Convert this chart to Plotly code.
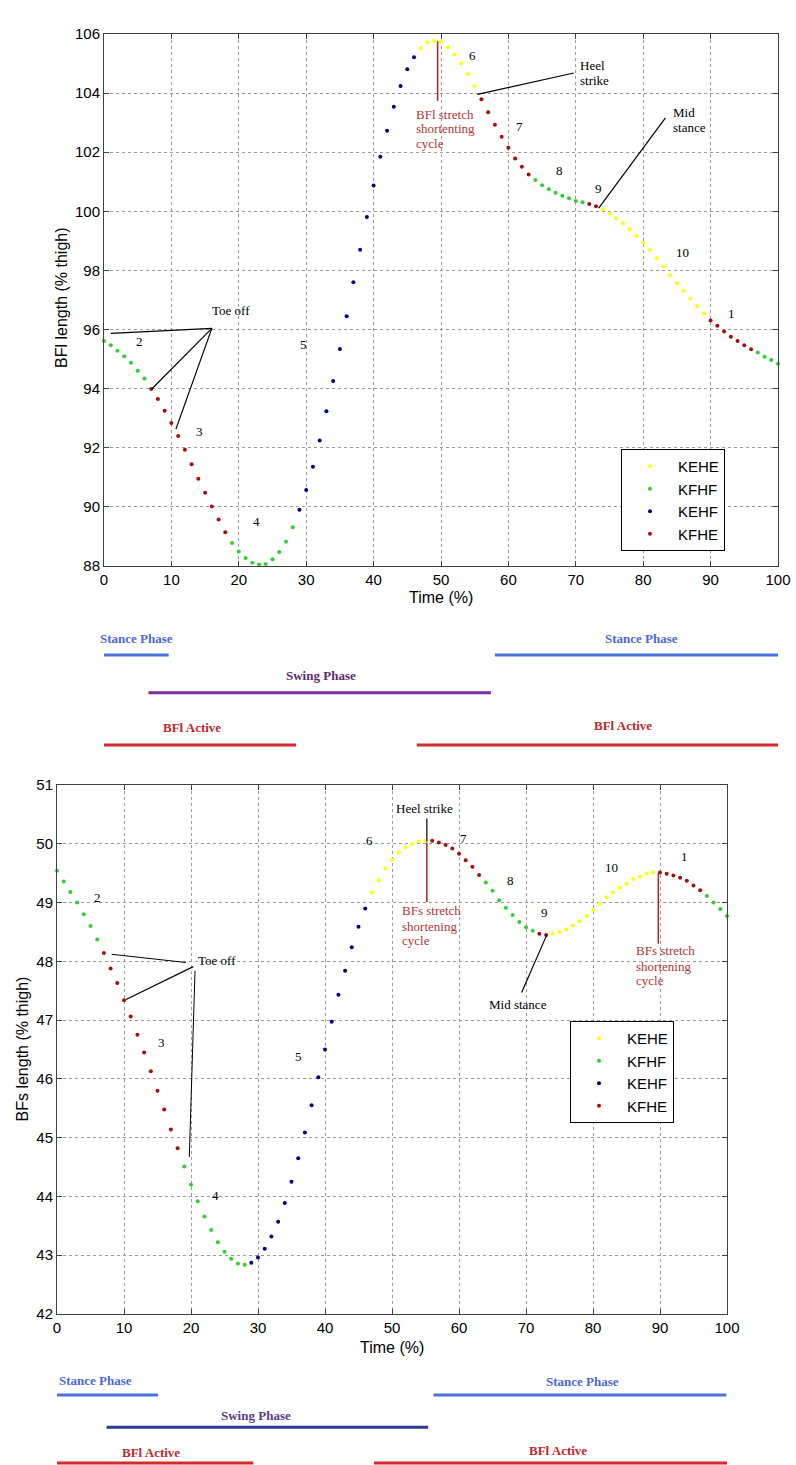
import plotly.graph_objects as go

W, H = 796, 1465

# ---------------- data ----------------
time_pct = list(range(101))

bfl_length = [95.61, 95.47, 95.28, 95.10, 94.88, 94.61, 94.34, 93.99, 93.65, 93.25,
              92.84, 92.40, 91.93, 91.44, 90.95, 90.48, 90.01, 89.57, 89.14, 88.78,
              88.49, 88.27, 88.11, 88.05, 88.07, 88.23, 88.47, 88.82, 89.31, 89.90,
              90.57, 91.36, 92.25, 93.24, 94.26, 95.34, 96.45, 97.60, 98.70, 99.81,
              100.87, 101.85, 102.73, 103.54, 104.24, 104.81, 105.21, 105.52, 105.72, 105.77,
              105.74, 105.55, 105.31, 105.01, 104.65, 104.24, 103.79, 103.35, 102.93, 102.52,
              102.15, 101.79, 101.51, 101.25, 101.06, 100.88, 100.75, 100.63, 100.53, 100.44,
              100.35, 100.31, 100.25, 100.17, 100.07, 99.92, 99.77, 99.60, 99.39, 99.17,
              98.94, 98.69, 98.41, 98.13, 97.85, 97.57, 97.31, 97.04, 96.79, 96.54,
              96.31, 96.13, 95.93, 95.76, 95.61, 95.47, 95.33, 95.22, 95.08, 94.97, 94.84]

bfs_length = [49.54, 49.36, 49.18, 49.00, 48.80, 48.60, 48.37, 48.14, 47.88, 47.63,
              47.34, 47.06, 46.75, 46.45, 46.13, 45.80, 45.48, 45.14, 44.82, 44.51,
              44.20, 43.92, 43.66, 43.43, 43.22, 43.06, 42.94, 42.86, 42.84, 42.87,
              42.96, 43.11, 43.32, 43.57, 43.89, 44.25, 44.65, 45.09, 45.55, 46.03,
              46.50, 46.97, 47.43, 47.84, 48.24, 48.59, 48.90, 49.17, 49.38, 49.58,
              49.73, 49.85, 49.94, 50.00, 50.04, 50.05, 50.05, 50.02, 49.98, 49.92,
              49.83, 49.72, 49.61, 49.47, 49.34, 49.20, 49.04, 48.91, 48.79, 48.67,
              48.58, 48.52, 48.47, 48.45, 48.47, 48.50, 48.54, 48.61, 48.68, 48.77,
              48.87, 48.98, 49.09, 49.17, 49.25, 49.32, 49.40, 49.44, 49.49, 49.51,
              49.51, 49.49, 49.46, 49.42, 49.37, 49.29, 49.21, 49.11, 49.00, 48.89, 48.77]

# joint-state runs (class, first %, last %)
state_runs = [("KFHF", 0, 6), ("KFHE", 7, 18), ("KFHF", 19, 28), ("KEHF", 29, 46),
              ("KEHE", 47, 55), ("KFHE", 56, 63), ("KFHF", 64, 71), ("KFHE", 72, 73),
              ("KEHE", 74, 89), ("KFHE", 90, 96), ("KFHF", 97, 100)]

legend_order = ["KEHE", "KFHF", "KEHF", "KFHE"]
state_colors = {"KEHE": "#ffff00", "KFHF": "#33cc33", "KEHF": "#000080", "KFHE": "#a01010"}

# phase bars (start %, end %) for each panel
stance_top = [(-0.4, 9.6), (58.0, 100.7)]
swing_top = [(6.6, 57.4)]
active_top = [(-0.4, 28.5), (46.4, 100.7)]
stance_bot = [(-1.2, 15.1), (56.2, 99.9)]
swing_bot = [(7.4, 55.4)]
active_bot = [(-0.9, 29.3), (47.3, 100.3)]

phase_labels_top = [("Stance Phase", 4.75, 638.7), ("Stance Phase", 79.8, 638.7),
                    ("Swing Phase", 32.2, 675.7), ("BFl Active", 13.1, 728), ("BFl Active", 77.0, 725.7)]
phase_labels_bot = [("Stance Phase", 5.8, 1380), ("Stance Phase", 78.4, 1381.7),
                    ("Swing Phase", 29.7, 1415.7), ("BFl Active", 14.0, 1452), ("BFl Active", 74.8, 1450.7)]

num_labels_top = [("2", 5.2, 95.61), ("3", 14.2, 92.55), ("4", 22.6, 89.50), ("5", 29.6, 95.50),
                  ("6", 54.6, 105.27), ("7", 61.6, 102.88), ("8", 67.6, 101.38), ("9", 73.4, 100.76),
                  ("10", 85.8, 98.61), ("1", 93.1, 96.53)]
num_labels_bot = [("2", 6.07, 49.09), ("3", 15.6, 46.62), ("4", 23.7, 44.01), ("5", 36.1, 46.38),
                  ("6", 46.7, 50.06), ("7", 60.6, 50.09), ("8", 67.7, 49.37), ("9", 72.7, 48.83),
                  ("10", 82.7, 49.59), ("1", 93.6, 49.78)]

# ---------------- helpers ----------------
def py(ypx):
    return 1 - ypx / H

def px(xpx):
    return xpx / W

def state_of(t):
    for s, a, b in state_runs:
        if a <= t <= b:
            return s
    return None

fig = go.Figure()

for panel, (vals, xa, ya, leg) in enumerate([(bfl_length, "x", "y", "legend"),
                                              (bfs_length, "x2", "y2", "legend2")]):
    for s in legend_order:
        xs = [t for t in time_pct if state_of(t) == s]
        ys = [vals[i] for i, t in enumerate(time_pct) if state_of(t) == s]
        fig.add_trace(go.Scatter(x=xs, y=ys, mode="markers", name=s,
                                 marker=dict(color=state_colors[s], size=4),
                                 xaxis=xa, yaxis=ya, legend=leg, cliponaxis=False))

tick_font = dict(family="Liberation Sans, Arial", size=15, color="black")
axis_common = dict(showline=True, linecolor="#404040", linewidth=1, mirror="ticks",
                   ticks="inside", ticklen=5, tickcolor="#404040", automargin=False,
                   showgrid=True, gridcolor="#9a9a9a", griddash="dot", gridwidth=1,
                   zeroline=False, tickfont=tick_font)

leg_font = dict(family="Liberation Sans, Arial", size=15, color="black")
fig.update_layout(
    template="none",
    width=W, height=H, margin=dict(l=0, r=0, t=0, b=0, autoexpand=False),
    paper_bgcolor="white", plot_bgcolor="white",
    xaxis=dict(domain=[px(104), px(778)], range=[0, 100], dtick=10, anchor="y", **axis_common),
    yaxis=dict(domain=[py(566), py(34)], range=[88, 106], dtick=2, anchor="x", **axis_common),
    xaxis2=dict(domain=[px(57), px(727)], range=[0, 100], dtick=10, anchor="y2", **axis_common),
    yaxis2=dict(domain=[py(1314), py(785)], range=[42, 51], dtick=1, anchor="x2", **axis_common),
    legend=dict(x=px(621), y=py(449), xanchor="left", yanchor="top", bgcolor="white",
                bordercolor="black", borderwidth=1, tracegroupgap=0, itemwidth=46,
                font=leg_font),
    legend2=dict(x=px(570), y=py(1021), xanchor="left", yanchor="top", bgcolor="white",
                 bordercolor="black", borderwidth=1, tracegroupgap=0, itemwidth=46,
                 font=leg_font),
)

ann = []
shapes = []
serif = "Liberation Serif, Times New Roman"
red_txt = "#b03535"

def add_text(text, x, y, xr, yr, font, xanchor="center", angle=0):
    ann.append(dict(text=text, x=x, y=y, xref=xr, yref=yr, showarrow=False,
                    xanchor=xanchor, yanchor="middle", textangle=angle, font=font))

# axis titles
title_font = dict(family="Liberation Sans, Arial", size=16, color="black")
add_text("BFl length (% thigh)", px(61), py(298), "paper", "paper", title_font, angle=-90)
add_text("Time (%)", px(441), py(598), "paper", "paper", title_font)
add_text("BFs length (% thigh)", px(22), py(1049.5), "paper", "paper", title_font, angle=-90)
add_text("Time (%)", px(392), py(1347), "paper", "paper", title_font)

num_font = dict(family=serif, size=13, color="black")
for txt, x, y in num_labels_top:
    add_text(txt, x, y, "x", "y", num_font)
for txt, x, y in num_labels_bot:
    add_text(txt, x, y, "x2", "y2", num_font)

def text_lines(lines, x, ys, xr, yr, color="black", anchor="left"):
    for t, y in zip(lines, ys):
        add_text(t, x, y, xr, yr, dict(family=serif, size=13, color=color), xanchor=anchor)

def seg(x0, y0, x1, y1, xr, yr, color="black", w=1.2):
    shapes.append(dict(type="line", x0=x0, y0=y0, x1=x1, y1=y1, xref=xr, yref=yr,
                       line=dict(color=color, width=w)))

# top panel annotations
text_lines(["Toe off"], 18.84, [96.66], "x", "y", anchor="center")
seg(16.0, 96.04, 1.0, 95.87, "x", "y")
seg(16.0, 96.04, 7.08, 93.99, "x", "y")
seg(16.0, 96.04, 10.67, 92.63, "x", "y")
text_lines(["Heel", "strike"], 70.3, [104.95, 104.44], "x", "y")
seg(55.4, 103.96, 69.7, 104.68, "x", "y")
text_lines(["Mid", "stance"], 84.1, [103.34, 102.82], "x", "y")
seg(73.4, 100.11, 83.3, 103.16, "x", "y")
seg(49.5, 105.76, 49.5, 103.74, "x", "y", color="#b22222", w=1.5)
text_lines(["BFl stretch", "shortenting", "cycle"], 46.0, [103.29, 102.79, 102.28], "x", "y", color=red_txt)

# bottom panel annotations
text_lines(["Toe off"], 20.75, [48.01], "x2", "y2")
seg(8.16, 48.12, 19.25, 47.98, "x2", "y2", w=1)
seg(10.3, 47.35, 20.34, 47.91, "x2", "y2")
seg(20.6, 47.84, 19.75, 44.67, "x2", "y2", w=1)
text_lines(["Heel strike"], 54.8, [50.60], "x2", "y2", anchor="center")
seg(55.2, 50.43, 55.2, 50.04, "x2", "y2")
seg(55.2, 50.02, 55.2, 49.01, "x2", "y2", color="#b22222", w=1.5)
text_lines(["BFs stretch", "shortening", "cycle"], 51.2, [48.87, 48.60, 48.35], "x2", "y2", color=red_txt)
text_lines(["Mid stance"], 68.8, [47.27], "x2", "y2", anchor="center")
seg(73.1, 48.45, 69.35, 47.47, "x2", "y2")
seg(89.75, 49.50, 89.75, 48.30, "x2", "y2", color="#b22222", w=1.5)
text_lines(["BFs stretch", "shortening", "cycle"], 86.1, [48.18, 47.92, 47.67], "x2", "y2", color=red_txt)

# phase bars
def bars(ranges, xr, ypx, color, w=3):
    for a, b in ranges:
        shapes.append(dict(type="line", x0=a, x1=b, y0=py(ypx), y1=py(ypx), xref=xr, yref="paper",
                           line=dict(color=color, width=w)))

bars(stance_top, "x", 655, "#4a72dc")
bars(swing_top, "x", 692.7, "#7a2e9a")
bars(active_top, "x", 745, "#d42a2a")
bars(stance_bot, "x2", 1395, "#4a72dc")
bars(swing_bot, "x2", 1427.3, "#2b3990")
bars(active_bot, "x2", 1463, "#d42a2a")

label_colors_top = {"Stance Phase": "#4a6ad0", "Swing Phase": "#5b2c6f", "BFl Active": "#c0282d"}
label_colors_bot = {"Stance Phase": "#4a6ad0", "Swing Phase": "#5b3a8a", "BFl Active": "#c0282d"}
for lbls, xr, cols in [(phase_labels_top, "x", label_colors_top), (phase_labels_bot, "x2", label_colors_bot)]:
    for txt, x, ypx in lbls:
        add_text("<b>" + txt + "</b>", x, py(ypx), xr, "paper",
                 dict(family=serif, size=13, color=cols[txt]))

fig.update_layout(annotations=ann, shapes=shapes)
fig.write_html("out.html", config={"displayModeBar": False},
               post_script="document.body.style.margin='0';document.body.style.overflow='hidden';")
